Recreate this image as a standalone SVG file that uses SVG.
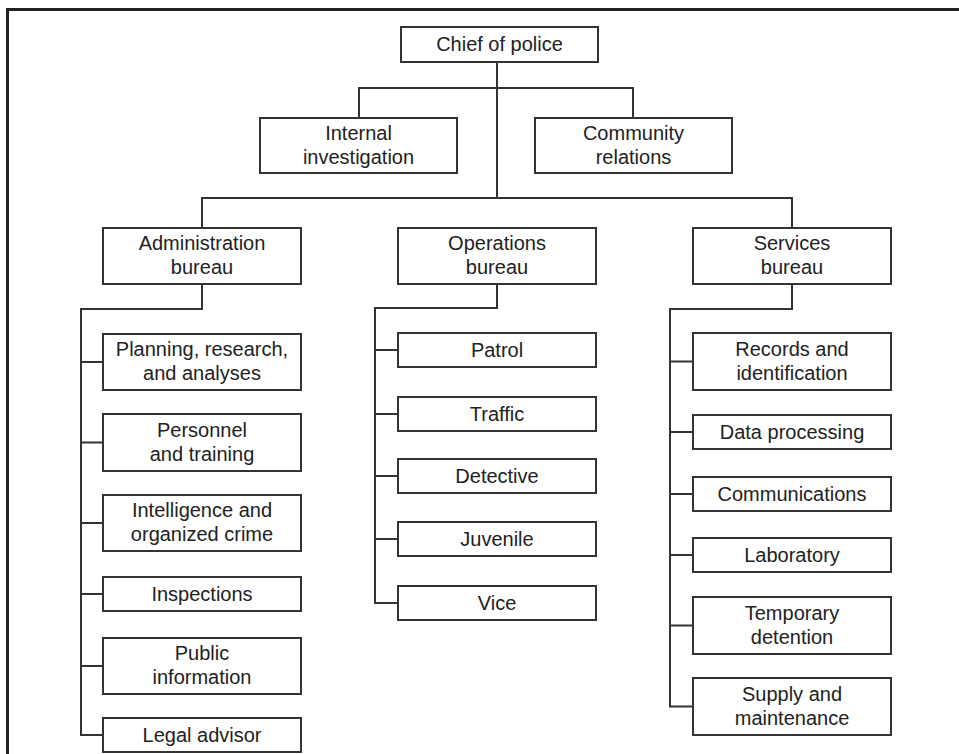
<svg xmlns="http://www.w3.org/2000/svg" width="959" height="754" viewBox="0 0 959 754">
<style>
.b{fill:#fff;stroke:#333;stroke-width:2}
.t{font-family:"Liberation Sans",Arial,Helvetica,sans-serif;font-size:20px;fill:#222;text-anchor:middle}
.c{fill:none;stroke:#333;stroke-width:2}
.f{fill:none;stroke:#222;stroke-width:3}
</style>
<rect width="959" height="754" fill="#fff"/>
<path class="f" d="M7.5,754 V9.5 H959"/>
<g id="connectors">
<path class="c" d="M497,62 V198"/>
<path class="c" d="M359,118 V88 H633 V118"/>
<path class="c" d="M202,228 V198 H792 V228"/>
<path class="c" d="M202,284 V309 H81 V735 H103"/>
<path class="c" d="M81,362 H103 M81,442.5 H103 M81,523 H103 M81,594 H103 M81,666 H103"/>
<path class="c" d="M497,284 V308 H375 V603 H398"/>
<path class="c" d="M375,350 H398 M375,414 H398 M375,476 H398 M375,539 H398"/>
<path class="c" d="M792,284 V309 H670 V706.5 H693"/>
<path class="c" d="M670,361.5 H693 M670,432 H693 M670,494 H693 M670,555 H693 M670,625.5 H693"/>
</g>
<g id="chief"><rect class="b" x="401" y="27" width="197" height="35"/><text class="t" x="499.5" y="51">Chief of police</text></g>
<g id="internal"><rect class="b" x="260" y="118" width="197" height="55"/><text class="t" x="358.5" y="140">Internal</text><text class="t" x="358.5" y="164">investigation</text></g>
<g id="community"><rect class="b" x="535" y="118" width="197" height="55"/><text class="t" x="633.5" y="140">Community</text><text class="t" x="633.5" y="164">relations</text></g>
<g id="admin"><rect class="b" x="103" y="228" width="198" height="56"/><text class="t" x="202" y="250">Administration</text><text class="t" x="202" y="274">bureau</text></g>
<g id="ops"><rect class="b" x="398" y="228" width="198" height="56"/><text class="t" x="497" y="250">Operations</text><text class="t" x="497" y="274">bureau</text></g>
<g id="services"><rect class="b" x="693" y="228" width="198" height="56"/><text class="t" x="792" y="250">Services</text><text class="t" x="792" y="274">bureau</text></g>
<g id="planning"><rect class="b" x="103" y="334" width="198" height="56"/><text class="t" x="202" y="356">Planning, research,</text><text class="t" x="202" y="380">and analyses</text></g>
<g id="personnel"><rect class="b" x="103" y="414" width="198" height="57"/><text class="t" x="202" y="437">Personnel</text><text class="t" x="202" y="461">and training</text></g>
<g id="intelligence"><rect class="b" x="103" y="495" width="198" height="56"/><text class="t" x="202" y="517">Intelligence and</text><text class="t" x="202" y="541">organized crime</text></g>
<g id="inspections"><rect class="b" x="103" y="577" width="198" height="34"/><text class="t" x="202" y="601">Inspections</text></g>
<g id="public"><rect class="b" x="103" y="638" width="198" height="56"/><text class="t" x="202" y="660">Public</text><text class="t" x="202" y="684">information</text></g>
<g id="legal"><rect class="b" x="103" y="718" width="198" height="34"/><text class="t" x="202" y="742">Legal advisor</text></g>
<g id="patrol"><rect class="b" x="398" y="333" width="198" height="34"/><text class="t" x="497" y="357">Patrol</text></g>
<g id="traffic"><rect class="b" x="398" y="397" width="198" height="34"/><text class="t" x="497" y="421">Traffic</text></g>
<g id="detective"><rect class="b" x="398" y="459" width="198" height="34"/><text class="t" x="497" y="483">Detective</text></g>
<g id="juvenile"><rect class="b" x="398" y="522" width="198" height="34"/><text class="t" x="497" y="546">Juvenile</text></g>
<g id="vice"><rect class="b" x="398" y="586" width="198" height="34"/><text class="t" x="497" y="610">Vice</text></g>
<g id="records"><rect class="b" x="693" y="333" width="198" height="57"/><text class="t" x="792" y="356">Records and</text><text class="t" x="792" y="380">identification</text></g>
<g id="data"><rect class="b" x="693" y="415" width="198" height="34"/><text class="t" x="792" y="439">Data processing</text></g>
<g id="communications"><rect class="b" x="693" y="477" width="198" height="34"/><text class="t" x="792" y="501">Communications</text></g>
<g id="laboratory"><rect class="b" x="693" y="538" width="198" height="34"/><text class="t" x="792" y="562">Laboratory</text></g>
<g id="temporary"><rect class="b" x="693" y="597" width="198" height="57"/><text class="t" x="792" y="620">Temporary</text><text class="t" x="792" y="644">detention</text></g>
<g id="supply"><rect class="b" x="693" y="678" width="198" height="57"/><text class="t" x="792" y="701">Supply and</text><text class="t" x="792" y="725">maintenance</text></g>
</svg>
